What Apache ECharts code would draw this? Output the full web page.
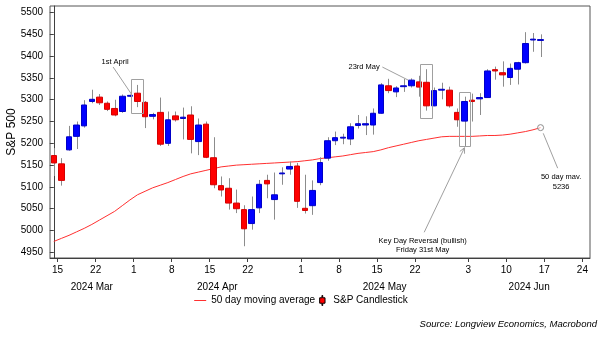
<!DOCTYPE html>
<html>
<head>
<meta charset="utf-8">
<script src="https://cdn.jsdelivr.net/npm/echarts@6/dist/echarts.min.js"></script>
<style>
  html, body { margin: 0; padding: 0; background: #fff; }
  #chart { width: 602px; height: 338px; }
</style>
</head>
<body>
<div id="chart"></div>
<script>
// Trading-day slots shown on the x axis (the last ones are still to come)
const dates = [
  '2024-03-14','2024-03-15','2024-03-18','2024-03-19','2024-03-20','2024-03-21','2024-03-22',
  '2024-03-25','2024-03-26','2024-03-27','2024-03-28',
  '2024-04-01','2024-04-02','2024-04-03','2024-04-04','2024-04-05','2024-04-08','2024-04-09',
  '2024-04-10','2024-04-11','2024-04-12','2024-04-15','2024-04-16','2024-04-17','2024-04-18',
  '2024-04-19','2024-04-22','2024-04-23','2024-04-24','2024-04-25','2024-04-26','2024-04-29','2024-04-30',
  '2024-05-01','2024-05-02','2024-05-03','2024-05-06','2024-05-07','2024-05-08','2024-05-09',
  '2024-05-10','2024-05-13','2024-05-14','2024-05-15','2024-05-16','2024-05-17','2024-05-20',
  '2024-05-21','2024-05-22','2024-05-23','2024-05-24','2024-05-28','2024-05-29','2024-05-30','2024-05-31',
  '2024-06-03','2024-06-04','2024-06-05','2024-06-06','2024-06-07','2024-06-10','2024-06-11',
  '2024-06-12','2024-06-13','2024-06-14','2024-06-17','2024-06-18','2024-06-19','2024-06-20',
  '2024-06-21','2024-06-24'
];

// S&P daily candles
const opens  = [5172,5153,5185,5216,5240,5296,5306,5292,5280,5273,
                5308,5315,5294,5262,5271,5200,5263,5257,5265,5204,
                5244,5167,5103,5097,5063,5048,5016,5052,5115,5071,
                5130,5141,5148,5051,5057,5110,5166,5206,5212,5210,
                5241,5242,5242,5269,5332,5318,5330,5332,5341,5340,
                5286,5322,5322,5271,5251,5299,5302,5305,5369,5362,
                5351,5370,5385,5437,5436];
const closes = [5155,5115,5215,5242,5288,5301,5293,5278,5265,5308,
                5310,5296,5261,5266,5198,5254,5254,5260,5209,5242,
                5168,5105,5093,5063,5050,5004,5048,5106,5107,5082,
                5132,5147,5067,5046,5092,5156,5206,5213,5214,5238,
                5245,5245,5269,5334,5321,5327,5332,5345,5329,5286,
                5321,5324,5286,5254,5296,5296,5305,5366,5366,5357,
                5372,5385,5429,5439,5438];
const lows   = [5125,5103,5183,5187,5236,5292,5288,5274,5262,5270,
                5306,5283,5235,5255,5194,5194,5250,5209,5177,5173,
                5166,5097,5078,5048,5040,4964,5002,5040,5074,5025,
                5105,5128,5052,5039,5036,5104,5160,5196,5198,5196,
                5234,5219,5220,5268,5315,5306,5318,5328,5307,5275,
                5285,5301,5282,5238,5194,5250,5265,5304,5346,5330,
                5334,5335,5383,5410,5398];
const highs  = [5189,5166,5240,5250,5299,5323,5313,5296,5300,5312,
                5312,5334,5297,5270,5305,5273,5273,5282,5285,5257,
                5250,5214,5124,5120,5094,5058,5078,5116,5128,5133,
                5145,5158,5155,5128,5115,5168,5214,5227,5222,5246,
                5265,5262,5280,5338,5348,5331,5348,5349,5355,5370,
                5328,5339,5330,5280,5307,5314,5315,5370,5376,5388,
                5383,5387,5455,5453,5450];

// 50 day moving average
const movingAverage = [4975,4982,4989,4997,5005,5014,5024,5034,5044,5057,
                       5070,5082,5090,5098,5104,5110,5117,5124,5130,5134,
                       5138,5142,5146,5148,5150,5151,5152,5153,5154,5155,
                       5156,5157,5158,5160,5162,5165,5167,5169,5171,5174,
                       5177,5179,5181,5185,5190,5194,5198,5202,5206,5209,
                       5212,5215,5216,5216,5216,5216,5217,5218,5218,5219,
                       5221,5224,5227,5231,5236];

// Axis labels
const tickDates = ['2024-03-15','2024-03-22','2024-04-01','2024-04-08','2024-04-15','2024-04-22',
                   '2024-05-01','2024-05-08','2024-05-15','2024-05-22',
                   '2024-06-03','2024-06-10','2024-06-17','2024-06-24'];
const monthLabels = { '2024-03': '2024 Mar', '2024-04': '2024 Apr', '2024-05': '2024 May', '2024-06': '2024 Jun' };
const yTicks = [4950, 5000, 5050, 5100, 5150, 5200, 5250, 5300, 5350, 5400, 5450, 5500];

const FONT = 'Liberation Sans, Arial, Helvetica, sans-serif';

// Derived helpers
const tickSlots = tickDates.map(d => dates.indexOf(d) - 0.5);   // ticks sit on the slot's left edge
const monthMid = [];
Object.keys(monthLabels).forEach(m => {
  const idx = dates.map((d, i) => d.startsWith(m) ? i : -1).filter(i => i >= 0);
  monthMid.push({ v: (idx[0] + idx[idx.length - 1]) / 2, label: monthLabels[m] });
});

const bodies = opens.map((o, i) => [o, closes[i], Math.min(o, closes[i]), Math.max(o, closes[i])]);
const wicks = lows.map((l, i) => [i, l, highs[i]]);

const chart = echarts.init(document.getElementById('chart'), null, { renderer: 'canvas' });

const option = {
  animation: false,
  backgroundColor: '#fff',
  grid: { left: 50, right: 12, top: 6, bottom: 80, containLabel: false, outerBoundsMode: 'none',
          show: true, borderColor: '#555', borderWidth: 1 },
  legend: {
    top: 290, left: 'center', itemGap: 4, itemWidth: 12, itemHeight: 10,
    textStyle: { fontFamily: FONT, fontSize: 10, color: '#000' },
    data: [
      { name: '50 day moving average', icon: 'path://M0,0 L12,0 L12,1 L0,1 Z',
        itemStyle: { color: '#ff3030' } },
      { name: 'S&P Candlestick', icon: 'path://M4,0 L5,0 L5,3 L8,3 L8,10 L5,10 L5,13 L4,13 L4,10 L1,10 L1,3 L4,3 Z',
        itemStyle: { color: '#ff0000', borderColor: '#000', borderWidth: 1 } }
    ]
  },
  xAxis: [
    { type: 'category', data: dates, boundaryGap: true, show: false },
    {
      type: 'value', min: -0.5, max: dates.length - 0.5, position: 'bottom',
      axisLine: { show: true, onZero: false, lineStyle: { color: '#404040', width: 1 } },
      axisTick: { show: true, length: 4, customValues: tickSlots, lineStyle: { color: '#404040' } },
      axisLabel: {
        customValues: tickSlots, margin: 7, color: '#000', fontFamily: FONT, fontSize: 10,
        formatter: v => String(Number(dates[Math.round(v + 0.5)].slice(8)))
      },
      splitLine: { show: false }
    },
    {
      type: 'value', min: -0.5, max: dates.length - 0.5, position: 'bottom',
      axisLine: { show: false }, axisTick: { show: false }, splitLine: { show: false },
      axisLabel: {
        customValues: monthMid.map(m => m.v), margin: 24, color: '#000', fontFamily: FONT, fontSize: 10,
        formatter: v => { const m = monthMid.find(x => Math.abs(x.v - v) < 1e-6); return m ? m.label : ''; }
      }
    }
  ],
  yAxis: {
    type: 'value', min: 4937, max: 5515,
    name: 'S&P 500', nameLocation: 'middle', nameGap: 32, nameRotate: 90, nameMoveOverlap: false,
    nameTextStyle: { fontFamily: FONT, fontSize: 12, color: '#000' },
    axisLine: { show: true, lineStyle: { color: '#404040' } },
    axisTick: { show: true, length: 4, customValues: yTicks, lineStyle: { color: '#404040' } },
    axisLabel: { customValues: yTicks, margin: 7, color: '#000', fontFamily: FONT, fontSize: 10,
                 formatter: v => String(v) },
    splitLine: { show: false }
  },
  series: [
    {
      name: '50 day moving average', type: 'line', xAxisIndex: 0, data: movingAverage,
      symbol: 'none', z: 1, lineStyle: { color: '#ff3030', width: 1 }, itemStyle: { color: '#ff3030' }
    },
    {
      name: 'wicks', type: 'custom', xAxisIndex: 0, data: wicks, z: 2,
      encode: { x: 0, y: [1, 2] },
      renderItem: (params, api) => {
        const p1 = api.coord([api.value(0), api.value(1)]);
        const p2 = api.coord([api.value(0), api.value(2)]);
        const x = Math.round(p1[0]) + 0.5;
        return { type: 'line', shape: { x1: x, y1: p1[1], x2: x, y2: p2[1] },
                 style: { stroke: '#8c8c8c', lineWidth: 1 } };
      }
    },
    {
      name: 'S&P Candlestick', type: 'candlestick', xAxisIndex: 0, data: bodies, z: 3, barWidth: 6,
      itemStyle: { color: '#0000ff', color0: '#ff0000', borderColor: '#0000c8', borderColor0: '#d40000', borderWidth: 1 }
    }
  ]
};

chart.setOption(option);

// Annotations, placed in data units through the grid's own scales
const boxes = [
  { at: 11, half: 0.8, from: 5269, to: 5347 },
  { at: 49, half: 0.8, from: 5260, to: 5383 },
  { at: 54, half: 0.72, from: 5195, to: 5318 }
];
const px = (x, v) => chart.convertToPixel({ xAxisIndex: 1, yAxisIndex: 0 }, [x, v]);
const GREY = '#a0a0a0';
const gfx = [];

boxes.forEach(b => {
  const a = px(b.at - b.half, b.to), c = px(b.at + b.half, b.from);
  gfx.push({ type: 'rect', z: 20,
    shape: { x: Math.round(a[0]) + 0.5, y: Math.round(a[1]) + 0.5, width: Math.round(c[0] - a[0]), height: Math.round(c[1] - a[1]) },
    style: { fill: 'none', stroke: GREY, lineWidth: 1 } });
});

function note(text, x, v, size) {
  const p = px(x, v);
  gfx.push({ type: 'text', z: 21, x: p[0], y: p[1],
    style: { text, fill: '#000', font: (size || 7.5) + 'px ' + FONT, align: 'center', verticalAlign: 'middle' } });
}
function leader(x1, v1, x2, v2) {
  const a = px(x1, v1), b = px(x2, v2);
  gfx.push({ type: 'line', z: 20, shape: { x1: a[0], y1: a[1], x2: b[0], y2: b[1] }, style: { stroke: GREY, lineWidth: 1 } });
  return [a, b];
}

note('1st April', 8.05, 5386);
leader(7.8, 5375, 10.2, 5313);

note('23rd May', 40.8, 5376);
leader(43.2, 5375, 46.6, 5345);

note('Key Day Reversal (bullish)', 48.5, 4975);
note('Friday 31st May', 48.5, 4955);
const arrow = leader(48.7, 4996, 54.0, 5190);
(function () {
  const [a, b] = arrow;
  const ang = Math.atan2(b[1] - a[1], b[0] - a[0]);
  const L = 6, W = 0.45;
  gfx.push({ type: 'polyline', z: 20,
    shape: { points: [
      [b[0] - L * Math.cos(ang - W), b[1] - L * Math.sin(ang - W)],
      [b[0], b[1]],
      [b[0] - L * Math.cos(ang + W), b[1] - L * Math.sin(ang + W)]
    ] },
    style: { stroke: GREY, lineWidth: 1, fill: 'none' } });
})();

const last = movingAverage.length - 1;
const endPt = px(last, movingAverage[last]);
gfx.push({ type: 'circle', z: 22, shape: { cx: endPt[0], cy: endPt[1], r: 3 },
  style: { fill: 'rgba(255,255,255,0.5)', stroke: '#8c8c8c', lineWidth: 1 } });
leader(last + 0.35, movingAverage[last] - 13, last + 2.25, 5143);
note('50 day mav.', last + 2.7, 5123);
note(String(movingAverage[last]), last + 2.7, 5101);

gfx.push({ type: 'text', z: 21, right: 5, top: 319,
  style: { text: 'Source: Longview Economics, Macrobond', fill: '#000', font: 'italic 9.5px ' + FONT } });

chart.setOption({ graphic: gfx });
</script>
</body>
</html>
